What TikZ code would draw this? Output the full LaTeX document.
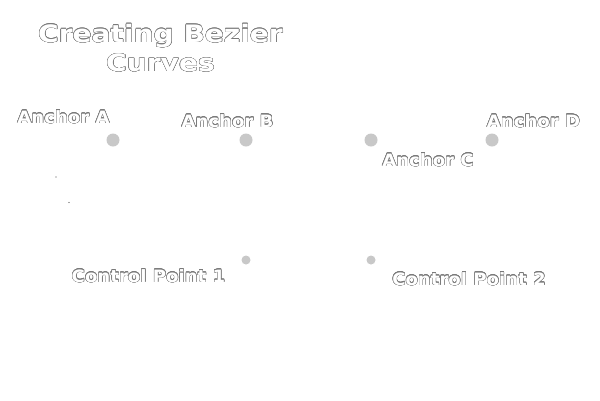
\documentclass[tikz,border=0pt]{standalone}
\usepackage{fontspec}
\setmainfont{DejaVu Sans}
\newfontfamily\lblfont[FakeStretch=1.065]{DejaVu Sans}
\newfontfamily\ttlfont[FakeStretch=1.17]{DejaVu Sans}
\usepackage{contour}
\contourlength{0.4pt}
\contournumber{16}
\definecolor{dotgray}{HTML}{C8C8C8}
\definecolor{edgegray}{HTML}{7A7A7A}
\newcommand{\otext}[1]{\contour{edgegray}{\textcolor{white}{#1}}}
\tikzset{
  anchordot/.style={circle,fill=dotgray,draw=none,minimum size=13pt,inner sep=0pt},
  ctrldot/.style={circle,fill=dotgray,draw=none,minimum size=9pt,inner sep=0pt},
  lbl/.style={inner sep=0pt,font=\lblfont\fontsize{17pt}{19pt}\selectfont\bfseries},
  ttl/.style={inner sep=0pt,align=center,font=\ttlfont\fontsize{24pt}{27pt}\selectfont\bfseries},
  speck/.style={circle,fill=black!70,minimum size=1.2pt,inner sep=0pt}
}
\begin{document}
\begin{tikzpicture}[x=1pt,y=-1pt]
\useasboundingbox[fill=white] (0,0) rectangle (600,400);
\node[ttl] (title1) at (160.5,36) {\otext{Creating Bezier}};
\node[ttl] (title2) at (160.5,63) {\otext{Curves}};
\node[anchordot] (a) at (113,140) {};
\node[anchordot] (b) at (246,140) {};
\node[anchordot] (c) at (371,140) {};
\node[anchordot] (d) at (492,140) {};
\node[ctrldot] (p1) at (246,260) {};
\node[ctrldot] (p2) at (371,260) {};
\node[lbl] (la) at (63.5,117) {\otext{Anchor A}};
\node[lbl] (lb) at (227.5,121) {\otext{Anchor B}};
\node[lbl] (lc) at (428,160) {\otext{Anchor C}};
\node[lbl] (ld) at (533.5,121) {\otext{Anchor D}};
\node[lbl] (lp1) at (148.5,276) {\otext{Control Point 1}};
\node[lbl] (lp2) at (469,279) {\otext{Control Point 2}};
\node[speck] (s1) at (56,177) {};
\node[speck] (s2) at (69,202.5) {};
\end{tikzpicture}
\end{document}
